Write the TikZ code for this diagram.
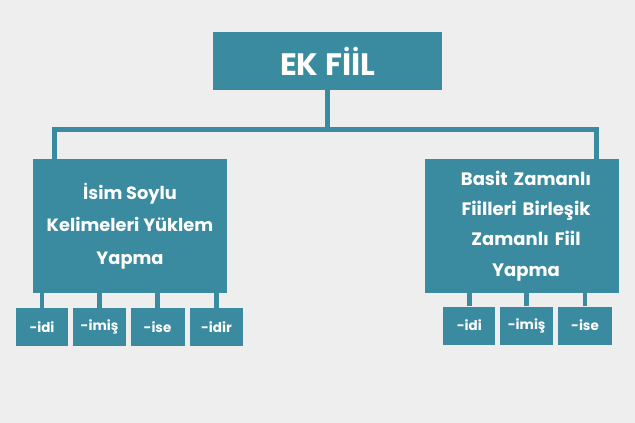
\documentclass[tikz,border=0pt]{standalone}
\usepackage{fontspec}
\setmainfont{Poppins}
\definecolor{teal1}{HTML}{3A8AA0}
\definecolor{bg}{HTML}{EEEEEE}
\tikzset{
  box/.style={fill=teal1, draw=none, inner sep=0pt, text=white, font=\bfseries, align=center},
  conn/.style={draw=teal1, line width=4.7pt, line join=miter},
}
\begin{document}
\begin{tikzpicture}[x=1pt,y=-1pt]
\fill[bg] (0,0) rectangle (635,423);
\useasboundingbox (0,0) rectangle (635,423);
% main nodes
\node[box, minimum width=229pt, minimum height=58.5pt, font=\bfseries\fontsize{31}{36}\selectfont] (T) at (327.7,61) {EK FİİL};
\node[box, minimum width=194pt, minimum height=134pt, font=\bfseries\fontsize{17.8}{32.5}\selectfont] (L) at (130,226) {İsim Soylu\\Kelimeleri Yüklem\\Yapma};
\node[box, minimum width=194pt, minimum height=134pt, text width=194pt, font=\bfseries\fontsize{18}{30.3}\selectfont] (R) at (522,226) {\hspace*{8pt}Basit Zamanlı\\\hspace*{8pt}Fiilleri Birleşik\\\hspace*{8pt}Zamanlı Fiil\\\hspace*{8pt}Yapma};
% small nodes
\tikzset{sm/.style={box, minimum height=38pt, font=\bfseries\fontsize{13.5}{16}\selectfont}}
\node[sm, minimum width=52pt] (l1) at (42,327) {-idi};
\node[sm, minimum width=53pt] (l2) at (99.5,327) {-imiş};
\node[sm, minimum width=54pt] (l3) at (157.5,327) {-ise};
\node[sm, minimum width=53pt] (l4) at (216.5,327) {-idir};
\node[sm, minimum width=52pt] (r1) at (469.3,325.5) {-idi};
\node[sm, minimum width=53pt] (r2) at (526.7,325.5) {-imiş};
\node[sm, minimum width=54pt] (r3) at (585,325.5) {-ise};
% connectors
\coordinate (hl) at (54.5,129.5);
\coordinate (hr) at (596.5,129.5);
\draw[conn] (hl |- L.north) -- (hl) -- (hr) -- (hr |- R.north);
\draw[conn] (T.south) -- (T.south |- hl);
\foreach \n in {l1,l2,l3,l4}{\draw[conn] (\n.north) -- (\n.north |- L.south);}
\foreach \n in {r1,r2,r3}{\draw[conn] (\n.north) -- (\n.north |- R.south);}
\end{tikzpicture}
\end{document}
